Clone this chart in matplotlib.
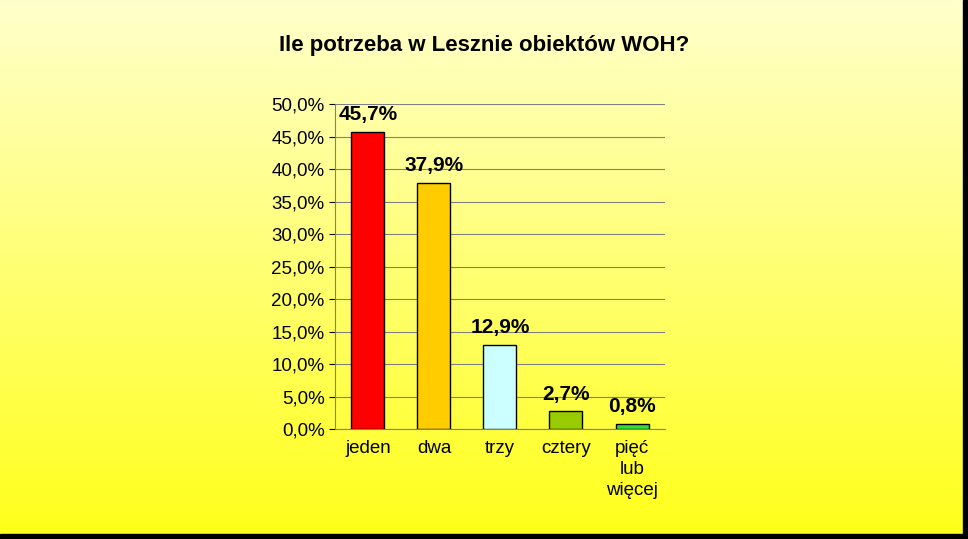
import matplotlib.pyplot as plt
import numpy as np
from matplotlib.ticker import FuncFormatter

categories = ["jeden", "dwa", "trzy", "cztery", "pięć\nlub\nwięcej"]
values = [45.7, 37.9, 12.9, 2.7, 0.8]
colors = ["#FF0000", "#FFCC00", "#CCFFFF", "#99CC00", "#33DD33"]

plt.rcParams['font.family'] = ['Liberation Sans', 'DejaVu Sans']

fig = plt.figure(figsize=(9.68, 5.39), dpi=100)

# background gradient: pale at top, bright yellow at bottom
bg = fig.add_axes([0, 0, 1, 1], zorder=-10)
grad = np.linspace(0, 1, 256).reshape(-1, 1)
top = np.array([1.0, 1.0, 0.8])
bot = np.array([1.0, 1.0, 0.1])
img = top + (bot - top) * grad[:, :, None]
bg.imshow(img, aspect='auto', extent=[0, 1, 0, 1])
bg.set_xlim(0, 1)
bg.set_ylim(0, 1)
bg.axis('off')
# dark frame at right and bottom
bg.add_patch(plt.Rectangle((0.995, 0), 0.005, 1, color='black', transform=bg.transAxes, clip_on=False))
bg.add_patch(plt.Rectangle((0, 0), 1, 0.009, color='black', transform=bg.transAxes, clip_on=False))

ax = fig.add_axes([0.346, 0.204, 0.341, 0.603])
ax.set_facecolor('none')
x = np.arange(len(categories))
ax.bar(x, values, width=0.5, color=colors, edgecolor='black', linewidth=1, zorder=3)
for xi, v in zip(x, values):
    ax.text(xi, v + 1.2, f"{v:.1f}%".replace('.', ','), ha='center', va='bottom',
            fontsize=15, fontweight='bold' if xi == 0 else 'semibold')

ax.set_xlim(-0.5, len(categories) - 0.5)
ax.set_ylim(0, 50)
ax.set_yticks(np.arange(0, 51, 5))
ax.yaxis.set_major_formatter(FuncFormatter(lambda v, p: f"{v:.1f}%".replace('.', ',')))
ax.grid(axis='y', color='#808080', linewidth=0.8, zorder=0)
ax.set_xticks(x)
ax.set_xticklabels(categories, fontsize=13.5, linespacing=1.3)
ax.tick_params(axis='y', labelsize=13.5, length=4, colors='black')
ax.tick_params(axis='x', length=0, pad=8)
for s in ['top', 'right']:
    ax.spines[s].set_visible(False)
ax.spines['left'].set_color('#808080')
ax.spines['bottom'].set_color('#808080')

fig.text(0.5, 0.915, "Ile potrzeba w Lesznie obiektów WOH?", ha='center', va='center',
         fontsize=16, fontweight='bold')

fig.savefig("out.png", dpi=100)
